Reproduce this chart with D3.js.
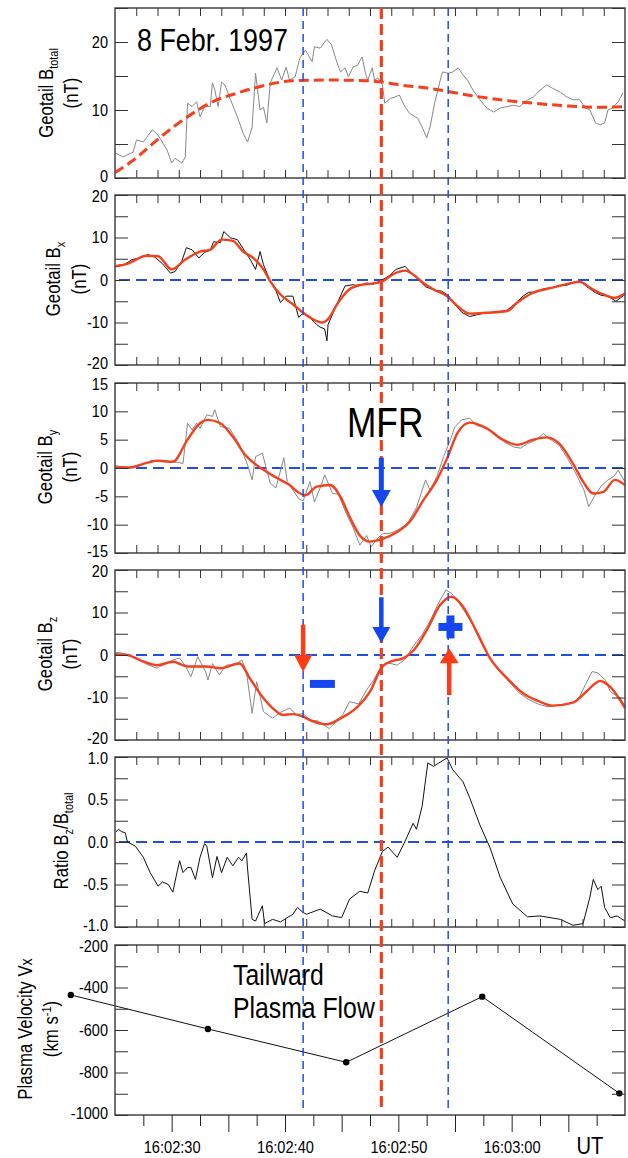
<!DOCTYPE html>
<html>
<head>
<meta charset="utf-8">
<script src="https://cdn.jsdelivr.net/npm/d3@7"></script>
<style>
  body { margin: 0; background: #fff; }
  text { font-family: "Liberation Sans", Arial, Helvetica, sans-serif; fill: #000; }
</style>
</head>
<body>
<div id="chart"></div>
<script>
// ---- data: [seconds after 16:02:00 UT, value] ----
var bTotalRaw = [[25.0,3.7],[25.7,3.1],[26.6,3.8],[26.9,5.6],[27.5,5.3],[28.3,7.1],[28.8,6.3],[29.6,4.1],[30.0,2.2],[30.3,2.9],[30.9,2.2],[31.2,3.1],[31.4,11.0],[31.8,10.5],[32.2,11.2],[32.5,9.0],[32.9,10.5],[33.4,10.5],[33.6,14.0],[33.8,13.0],[34.1,10.5],[34.4,14.1],[34.7,13.7],[35.1,11.9],[35.8,9.0],[36.3,6.6],[36.7,5.3],[37.1,7.5],[37.4,15.4],[37.8,10.0],[38.1,10.4],[38.4,8.1],[38.7,14.0],[39.3,16.2],[39.7,14.4],[40.1,16.3],[40.4,14.4],[40.9,14.9],[41.3,17.6],[41.8,18.8],[42.4,17.1],[42.6,19.3],[43.1,19.1],[43.7,20.4],[44.1,19.6],[44.6,16.9],[44.9,15.6],[45.3,16.2],[45.6,14.9],[46.0,16.3],[46.4,16.6],[46.8,17.8],[47.1,15.4],[47.3,14.4],[47.7,16.2],[47.9,14.4],[48.2,14.7],[48.6,13.7],[48.8,11.0],[49.3,11.7],[49.7,11.9],[50.1,12.2],[50.6,10.4],[51.0,9.5],[51.5,9.0],[51.7,8.8],[52.1,7.5],[52.5,5.9],[52.8,7.5],[53.2,11.0],[53.7,14.4],[53.9,15.6],[54.4,15.4],[54.8,15.6],[55.3,16.2],[55.6,15.4],[56.1,14.4],[56.6,12.9],[57.2,11.5],[57.8,10.3],[58.4,9.7],[59.0,10.3],[59.6,10.5],[60.1,10.7],[60.7,10.5],[61.4,11.5],[61.9,11.9],[62.5,12.9],[63.1,13.7],[63.6,13.2],[64.3,12.6],[64.9,11.9],[65.4,11.5],[66.0,11.5],[66.5,10.3],[66.9,10.0],[67.4,8.1],[67.8,7.8],[68.2,8.1],[68.5,10.0],[68.9,10.3],[69.4,11.2],[69.8,12.5]];
var bTotalFit = [[25.0,0.8],[26.6,2.6],[29.0,6.0],[31.4,9.0],[33.6,11.2],[36.0,12.6],[38.4,13.7],[40.7,14.3],[44.2,14.4],[47.2,14.3],[48.6,14.1],[50.1,13.7],[53.1,13.1],[56.1,12.2],[59.0,11.5],[61.9,11.0],[64.9,10.6],[67.8,10.4],[70.0,10.5]];

var bxRaw = [[25.0,3.4],[25.8,3.6],[26.5,4.8],[27.2,5.2],[27.9,6.0],[28.5,5.4],[29.2,3.8],[29.9,1.6],[30.3,2.0],[30.9,4.5],[31.3,7.6],[31.8,7.1],[32.4,5.2],[32.9,6.5],[33.4,7.0],[33.7,9.0],[34.3,8.8],[34.6,11.4],[35.2,9.9],[35.8,9.5],[36.4,7.0],[37.0,4.5],[37.4,2.5],[37.8,6.7],[38.1,3.6],[38.7,-0.3],[39.2,-2.5],[39.6,-5.3],[40.1,-3.8],[40.7,-3.8],[41.2,-8.8],[41.6,-7.8],[42.2,-8.9],[42.8,-10.5],[43.1,-11.1],[43.5,-11.5],[43.7,-14.3],[43.8,-10.5],[44.2,-8.0],[44.6,-5.5],[45.3,-1.4],[46.0,-1.1],[46.5,-1.4],[47.2,-0.7],[47.8,-1.0],[48.5,-0.1],[49.2,1.0],[49.8,2.5],[50.6,3.2],[51.2,1.5],[51.8,0.0],[52.4,-1.6],[53.0,-2.2],[53.4,-2.5],[53.8,-2.6],[54.4,-3.6],[55.0,-5.8],[55.6,-7.6],[56.3,-8.6],[56.9,-8.2],[57.7,-7.7],[58.6,-7.6],[59.6,-7.1],[60.3,-5.6],[61.0,-3.8],[61.5,-2.9],[62.2,-2.8],[62.9,-2.0],[63.5,-1.9],[64.2,-1.4],[64.9,-1.2],[65.6,-0.5],[66.2,-0.6],[66.8,-1.9],[67.4,-3.0],[67.9,-3.6],[68.5,-3.8],[69.2,-5.0],[69.6,-4.2],[70.0,-3.4]];
var bxSmooth = [[25.0,3.2],[26.1,3.8],[27.8,5.7],[28.8,5.6],[30.0,2.5],[31.2,4.8],[32.5,6.7],[33.4,7.1],[34.4,9.5],[35.4,9.2],[36.3,6.7],[37.2,5.2],[38.1,2.5],[38.7,-0.3],[39.6,-3.4],[40.7,-5.7],[41.6,-7.7],[42.2,-8.8],[43.3,-10.0],[43.8,-9.2],[44.6,-5.7],[45.5,-2.6],[46.4,-1.3],[47.5,-0.9],[48.6,-0.3],[49.5,1.3],[50.6,2.2],[51.5,0.9],[52.2,-0.7],[53.1,-2.2],[54.3,-3.8],[55.2,-6.1],[56.3,-7.9],[57.8,-7.7],[59.6,-7.3],[60.5,-5.3],[61.9,-3.0],[63.6,-1.8],[65.1,-0.8],[66.0,-0.4],[66.9,-1.8],[68.1,-3.4],[69.1,-4.2],[70.0,-3.2]];

var byRaw = [[25.0,0.4],[25.8,0.2],[26.6,0.0],[27.4,0.6],[28.2,1.3],[29.0,1.1],[29.8,1.1],[30.5,1.0],[31.0,0.8],[31.4,7.9],[31.8,6.7],[32.2,7.9],[32.5,7.0],[33.1,9.4],[33.6,9.1],[33.8,10.3],[34.3,7.3],[35.1,7.0],[36.0,4.1],[36.7,0.5],[37.1,-2.1],[37.4,2.0],[38.0,2.6],[38.7,-2.7],[39.2,-3.5],[39.9,1.8],[40.2,-2.4],[41.2,-5.4],[41.6,-5.8],[42.2,-2.4],[42.6,-6.0],[43.2,-3.0],[43.5,-1.2],[44.2,-4.5],[44.7,-4.6],[45.4,-8.0],[46.0,-10.5],[46.6,-13.6],[47.2,-11.9],[47.6,-13.9],[48.1,-12.6],[48.6,-11.6],[49.3,-11.5],[49.9,-11.0],[50.8,-9.8],[51.6,-7.0],[52.4,-2.1],[52.8,-3.9],[53.4,-1.5],[54.0,2.0],[54.6,5.0],[55.0,7.3],[55.6,8.5],[56.3,8.8],[56.9,7.5],[57.8,7.0],[58.6,6.0],[59.4,4.5],[60.2,3.7],[60.8,3.5],[61.3,4.2],[62.2,5.0],[62.8,6.1],[63.3,5.2],[64.2,4.0],[65.0,1.5],[65.8,-1.5],[66.4,-4.0],[66.8,-6.8],[67.3,-5.0],[67.9,-3.2],[68.5,-2.1],[69.0,-1.5],[69.4,-0.4],[70.0,-2.5]];
var bySmooth = [[25.0,0.1],[26.3,0.1],[27.8,0.9],[28.8,1.3],[30.1,1.1],[31.4,5.0],[32.5,7.9],[33.2,8.5],[34.3,7.9],[35.4,5.5],[36.5,2.3],[37.5,0.5],[38.4,-0.7],[39.6,-2.1],[40.4,-3.0],[41.1,-4.2],[41.8,-4.8],[42.8,-3.3],[44.0,-3.0],[44.9,-5.1],[45.7,-8.6],[46.6,-11.9],[47.5,-13.0],[48.6,-12.5],[49.9,-11.3],[51.0,-9.5],[52.2,-5.7],[53.4,-2.1],[54.3,1.7],[55.2,6.1],[56.3,8.0],[57.8,7.0],[59.2,5.0],[60.5,4.1],[61.9,5.0],[63.1,5.4],[64.3,4.1],[65.4,0.8],[66.3,-2.4],[67.2,-4.5],[68.1,-4.2],[69.1,-2.1],[70.0,-3.0]];

var bzRaw = [[25.0,0.5],[25.4,0.6],[26.1,0.0],[27.0,-1.0],[27.8,-2.2],[28.7,-3.1],[29.5,-2.0],[30.1,-1.2],[30.7,-0.7],[31.2,-2.5],[31.7,-5.1],[32.3,-0.4],[33.0,-4.0],[33.2,-5.9],[33.6,-2.0],[34.2,-4.7],[34.8,-2.4],[35.6,-2.2],[36.2,-1.2],[36.6,-4.0],[37.1,-13.7],[37.5,-6.3],[38.1,-13.3],[38.9,-14.9],[39.6,-13.5],[40.4,-12.5],[41.0,-14.0],[41.6,-13.8],[42.2,-15.3],[42.9,-15.5],[43.9,-17.3],[44.4,-16.0],[45.1,-14.0],[45.7,-11.0],[46.5,-11.5],[47.2,-8.2],[47.8,-6.0],[48.4,-3.1],[49.0,-1.8],[49.9,-2.4],[50.6,-1.0],[51.3,2.0],[52.1,4.8],[52.8,8.0],[53.5,12.0],[54.2,15.3],[54.7,14.5],[55.3,12.5],[55.9,10.0],[56.6,7.0],[57.3,3.0],[58.0,-0.5],[58.8,-3.5],[59.7,-6.0],[60.6,-8.8],[61.5,-10.5],[62.4,-11.6],[63.2,-12.2],[64.0,-11.8],[64.9,-11.6],[65.8,-10.8],[66.5,-7.0],[67.1,-3.9],[67.6,-4.2],[68.3,-6.0],[68.7,-8.6],[69.6,-10.2],[70.0,-12.0]];
var bzSmooth = [[25.0,0.2],[26.1,0.0],[27.2,-1.2],[28.7,-2.4],[30.1,-1.6],[31.4,-2.7],[33.1,-2.7],[34.3,-3.1],[36.0,-2.0],[36.9,-5.5],[38.1,-10.2],[38.9,-12.5],[39.8,-14.1],[40.7,-13.9],[41.6,-14.5],[42.2,-15.3],[43.7,-16.3],[44.9,-14.9],[46.4,-12.2],[47.5,-8.6],[48.6,-2.7],[49.5,-1.4],[50.4,-0.8],[51.5,1.6],[52.6,6.3],[53.7,11.8],[54.7,13.7],[55.7,11.4],[56.9,5.5],[58.1,-0.8],[59.6,-5.5],[61.0,-9.0],[62.5,-11.0],[63.6,-11.9],[65.4,-11.2],[66.6,-8.6],[67.8,-6.1],[68.7,-7.5],[70.0,-12.5]];

var ratio = [[25.0,0.11],[25.3,0.15],[25.6,0.12],[25.9,0.11],[26.1,0.0],[26.8,-0.05],[27.5,-0.18],[28.1,-0.36],[28.8,-0.52],[29.2,-0.47],[29.7,-0.50],[30.1,-0.59],[30.5,-0.34],[30.7,-0.22],[31.0,-0.36],[31.4,-0.30],[31.7,-0.30],[32.1,-0.44],[32.5,-0.18],[32.9,-0.02],[33.1,-0.05],[33.6,-0.42],[34.0,-0.17],[34.4,-0.36],[34.9,-0.18],[35.4,-0.28],[35.9,-0.18],[36.2,-0.22],[36.6,-0.13],[36.7,-0.32],[37.1,-0.91],[37.4,-0.93],[38.0,-0.75],[38.2,-0.96],[38.9,-0.91],[39.6,-0.94],[40.2,-0.89],[40.7,-0.85],[41.1,-0.77],[41.6,-0.83],[41.9,-0.85],[43.1,-0.79],[44.2,-0.87],[45.0,-0.89],[45.7,-0.67],[46.6,-0.58],[47.3,-0.60],[47.9,-0.34],[48.6,-0.11],[49.1,-0.06],[49.9,-0.18],[50.6,0.01],[51.3,0.22],[51.6,0.15],[52.1,0.42],[52.6,0.93],[53.1,0.89],[54.3,0.99],[54.8,0.85],[55.7,0.71],[56.3,0.52],[57.2,0.20],[58.1,-0.07],[59.0,-0.42],[60.1,-0.73],[61.4,-0.88],[62.5,-0.87],[64.3,-0.91],[65.4,-0.98],[66.3,-0.96],[66.9,-0.65],[67.2,-0.44],[67.6,-0.56],[67.9,-0.52],[68.2,-0.77],[68.7,-0.89],[69.3,-0.87],[70.0,-0.93]];

var vx = [[21.1,-435],[33.2,-595],[45.4,-752],[57.4,-443],[69.5,-898]];

// event times (vertical dashed lines)
var blueEvents = [41.6, 54.4];
var redEvent = 48.5;

// tick labels
var timeLabels = [30, 40, 50, 60];

// ---- layout ----
var width = 628, height = 1158;
var left = 115, right = 625, panelH = 170;
var squeeze = 0.84;
var red = "#f4401c", blue = "#1f4de8", arrowBlue = "#1447f0", arrowRed = "#ff3a14";

var t0 = Date.UTC(1997, 1, 8, 16, 2, 0);
function at(s) { return new Date(t0 + s * 1000); }

var x = d3.scaleUtc().domain([at(25), at(70)]).range([left, right]);
var timeFmt = d3.utcFormat("%H:%M:%S");

var panels = [
  {top: 8,   domain: [0, 25],        minor: 5,    major: 10,  raw: bTotalRaw, rawColor: "#888", labelX: [53, 78],
   lines: [[{t: "Geotail B"}, {t: "total", s: 13, dy: 5}], [{t: "(nT)"}]]},
  {top: 195, domain: [-20, 20],      minor: 5,    major: 10,  raw: bxRaw, rawColor: "#111", smooth: bxSmooth, zero: true, labelX: [60, 86],
   lines: [[{t: "Geotail B"}, {t: "x", s: 13, dy: 5}], [{t: "(nT)"}]]},
  {top: 383, domain: [-15, 15],      minor: 5,    major: 5,   raw: byRaw, rawColor: "#888", smooth: bySmooth, zero: true, labelX: [52, 77],
   lines: [[{t: "Geotail B"}, {t: "y", s: 13, dy: 5}], [{t: "(nT)"}]]},
  {top: 570, domain: [-20, 20],      minor: 5,    major: 10,  raw: bzRaw, rawColor: "#888", smooth: bzSmooth, zero: true, labelX: [52, 77],
   lines: [[{t: "Geotail B"}, {t: "z", s: 13, dy: 5}], [{t: "(nT)"}]]},
  {top: 757, domain: [-1, 1],        minor: 0.25, major: 0.5, raw: ratio, rawColor: "#111", zero: true, fixed: 1, labelX: [68],
   lines: [[{t: "Ratio B"}, {t: "z", s: 13, dy: 5}, {t: "/B", dy: -5}, {t: "total", s: 13, dy: 5}]]},
  {top: 945, domain: [-1000, -200],  minor: 100,  major: 200, labelX: [32, 58],
   lines: [[{t: "Plasma Velocity V"}, {t: "x", s: 17}], [{t: "(km s"}, {t: "-1", s: 13, dy: -7}, {t: ")", dy: 7}]]}
];

var svg = d3.select("#chart").append("svg")
  .attr("width", width)
  .attr("height", height)
  .style("background", "#fff");

var minorTimes = d3.range(1, 24).map(function(i) { return at(25 + i * 45 / 24); });

function fmtNum(v, fixed) {
  var s = fixed ? v.toFixed(fixed) : String(Math.round(v));
  return s === "-0.0" ? "0.0" : s;
}

var line = d3.line()
  .x(function(d) { return x(at(d[0])); });

panels.forEach(function(p, pi) {
  var y = d3.scaleLinear().domain(p.domain).range([p.top + panelH, p.top]);
  p.y = y;
  var g = svg.append("g");

  var clipId = "clip" + pi;
  svg.append("clipPath").attr("id", clipId)
    .append("rect").attr("x", left).attr("y", p.top).attr("width", right - left).attr("height", panelH);

  var body = g.append("g");
  if (pi < 5) body.attr("clip-path", "url(#" + clipId + ")");

  line.y(function(d) { return y(d[1]); });

  if (p.zero) {
    body.append("line")
      .attr("x1", left + 4).attr("x2", right)
      .attr("y1", y(0)).attr("y2", y(0))
      .attr("stroke", blue).attr("stroke-width", 2)
      .attr("stroke-dasharray", "11,6");
  }

  if (p.raw) {
    body.append("path")
      .datum(p.raw)
      .attr("fill", "none")
      .attr("stroke", p.rawColor)
      .attr("stroke-width", 1)
      .attr("d", line);
  }

  if (p.smooth) {
    body.append("path")
      .datum(p.smooth)
      .attr("fill", "none")
      .attr("stroke", red)
      .attr("stroke-width", 2.4)
      .attr("d", line.curve(d3.curveMonotoneX));
    line.curve(d3.curveLinear);
  }

  if (pi === 0) {
    body.append("path")
      .datum(bTotalFit)
      .attr("fill", "none")
      .attr("stroke", red)
      .attr("stroke-width", 3)
      .attr("stroke-dasharray", "10,5")
      .attr("d", line.curve(d3.curveMonotoneX));
    line.curve(d3.curveLinear);
  }

  if (pi === 5) {
    body.append("path")
      .datum(vx)
      .attr("fill", "none")
      .attr("stroke", "#111")
      .attr("stroke-width", 1)
      .attr("d", line);
    body.selectAll("circle")
      .data(vx)
      .enter()
      .append("circle")
      .attr("cx", function(d) { return x(at(d[0])); })
      .attr("cy", function(d) { return y(d[1]); })
      .attr("r", 3.2)
      .attr("fill", "#000");
  }

  // frame
  g.append("rect")
    .attr("x", left).attr("y", p.top)
    .attr("width", right - left).attr("height", panelH)
    .attr("fill", "none").attr("stroke", "#444").attr("stroke-width", 1.5);

  var yTicks = d3.range(p.domain[0], p.domain[1] + p.minor / 2, p.minor);

  // left axis, ticks inward
  g.append("g")
    .attr("transform", "translate(" + left + ",0)")
    .attr("color", "#333")
    .call(d3.axisLeft(y).tickValues(yTicks).tickSize(-13).tickPadding(8)
      .tickFormat(function(v) {
        var r = Math.abs(v % p.major);
        return (r < 1e-9 || Math.abs(r - p.major) < 1e-9) ? fmtNum(v, p.fixed) : "";
      }))
    .call(function(a) { a.select(".domain").remove(); })
    .call(function(a) {
      a.selectAll("text")
        .attr("font-size", 16.5)
        .attr("font-family", "Liberation Sans, Arial, sans-serif")
        .attr("fill", "#000")
        .attr("y", function(v) {
          if (v === p.domain[1]) return 1.5;
          if (v === p.domain[0]) return -1.5;
          return 0;
        })
        .attr("transform", "scale(0.88,1)");
    });

  // right axis
  g.append("g")
    .attr("transform", "translate(" + right + ",0)")
    .attr("color", "#333")
    .call(d3.axisRight(y).tickValues(yTicks).tickSize(-13).tickFormat(""))
    .call(function(a) { a.select(".domain").remove(); });

  // top axis
  g.append("g")
    .attr("transform", "translate(0," + p.top + ")")
    .attr("color", "#333")
    .call(d3.axisTop(x).tickValues(minorTimes).tickSize(-8).tickFormat(""))
    .call(function(a) { a.select(".domain").remove(); });

  if (pi < 5) {
    g.append("g")
      .attr("transform", "translate(0," + (p.top + panelH) + ")")
      .attr("color", "#333")
      .call(d3.axisBottom(x).tickValues(minorTimes).tickSize(-8).tickFormat(""))
      .call(function(a) { a.select(".domain").remove(); });
  } else {
    var base = p.top + panelH;
    var longT = d3.range(30, 66, 5).map(at);
    var shortT = d3.range(27.5, 68, 5).map(at);
    g.append("g")
      .attr("transform", "translate(0," + base + ")")
      .attr("color", "#222")
      .call(d3.axisBottom(x).tickValues(shortT).tickSize(11).tickFormat(""))
      .call(function(a) { a.select(".domain").remove(); });
    g.append("g")
      .attr("transform", "translate(0," + base + ")")
      .attr("color", "#222")
      .call(d3.axisBottom(x).tickValues(longT).tickSize(17)
        .tickFormat(function(d) {
          var s = (d - t0) / 1000;
          return timeLabels.indexOf(Math.round(s)) >= 0 ? timeFmt(d) : "";
        }))
      .call(function(a) { a.select(".domain").remove(); })
      .call(function(a) {
        a.selectAll("text")
          .attr("y", 38).attr("dy", null)
          .attr("font-size", 17)
          .attr("font-family", "Liberation Sans, Arial, sans-serif")
          .attr("fill", "#000")
          .attr("transform", "scale(0.86,1)");
      });
  }

  // y label (rotated)
  var cy = p.top + panelH / 2 - (pi === 0 ? 0 : 1);
  p.lines.forEach(function(parts, li) {
    var t = svg.append("text")
      .attr("transform", "translate(" + p.labelX[li] + "," + cy + ") rotate(-90) scale(" + squeeze + ",1)")
      .attr("text-anchor", "middle")
      .attr("font-size", 20);
    parts.forEach(function(pt) {
      t.append("tspan")
        .attr("font-size", pt.s || null)
        .attr("dy", pt.dy || null)
        .text(pt.t);
    });
  });
});

// vertical event lines across all panels
var vTop = 8, vBottom = 1110;
blueEvents.forEach(function(s) {
  svg.append("line")
    .attr("x1", x(at(s))).attr("x2", x(at(s)))
    .attr("y1", vTop).attr("y2", vBottom)
    .attr("stroke", blue).attr("stroke-width", 1.5)
    .attr("stroke-dasharray", "8,5");
});
svg.append("line")
  .attr("x1", x(at(redEvent))).attr("x2", x(at(redEvent)))
  .attr("y1", vTop).attr("y2", vBottom)
  .attr("stroke", red).attr("stroke-width", 3.2)
  .attr("stroke-dasharray", "11,5");

// annotations
function arrow(xp, yStart, yTip, color, shaftW, headW, headL) {
  var dir = yTip > yStart ? 1 : -1;
  var yHead = yTip - dir * headL;
  var pts = [
    [xp - shaftW / 2, yStart], [xp + shaftW / 2, yStart],
    [xp + shaftW / 2, yHead], [xp + headW / 2, yHead],
    [xp, yTip], [xp - headW / 2, yHead], [xp - shaftW / 2, yHead]
  ];
  svg.append("path")
    .attr("d", "M" + pts.join("L") + "Z")
    .attr("fill", color);
}

var yBy = panels[2].y, yBz = panels[3].y;
arrow(x(at(redEvent)), yBy(1.8), yBy(-6.9), arrowBlue, 5, 19, 17);
arrow(x(at(blueEvents[0])), yBz(7.1), yBz(-4.0), arrowRed, 4.5, 18, 17);
arrow(x(at(redEvent)), yBz(13.6), yBz(2.8), arrowBlue, 4.5, 18, 16);
arrow(x(at(blueEvents[1])) + 1, yBz(-9.4), yBz(1.6), arrowRed, 4.5, 19, 15);

// minus sign
var mx = x(at(43.3)), my = yBz(-6.8);
svg.append("rect").attr("x", mx - 12.5).attr("y", my - 4).attr("width", 25).attr("height", 8).attr("fill", arrowBlue);
// plus sign
var px = x(at(54.6)), py = yBz(6.6);
svg.append("rect").attr("x", px - 12).attr("y", py - 4).attr("width", 24).attr("height", 8).attr("fill", arrowBlue);
svg.append("rect").attr("x", px - 4).attr("y", py - 11.5).attr("width", 8).attr("height", 23).attr("fill", arrowBlue);

function label(txt, xp, yp, size, anchor) {
  svg.append("text")
    .attr("transform", "translate(" + xp + "," + yp + ") scale(" + squeeze + ",1)")
    .attr("text-anchor", anchor || "start")
    .attr("font-size", size)
    .text(txt);
}
label("8 Febr. 1997", 137, 51, 32);
label("MFR", 347, 437, 42);
label("Tailward", 233, 985, 29.5);
label("Plasma Flow", 233, 1018, 29.5);
label("UT", 590, 1154, 24, "middle");
</script>
</body>
</html>
